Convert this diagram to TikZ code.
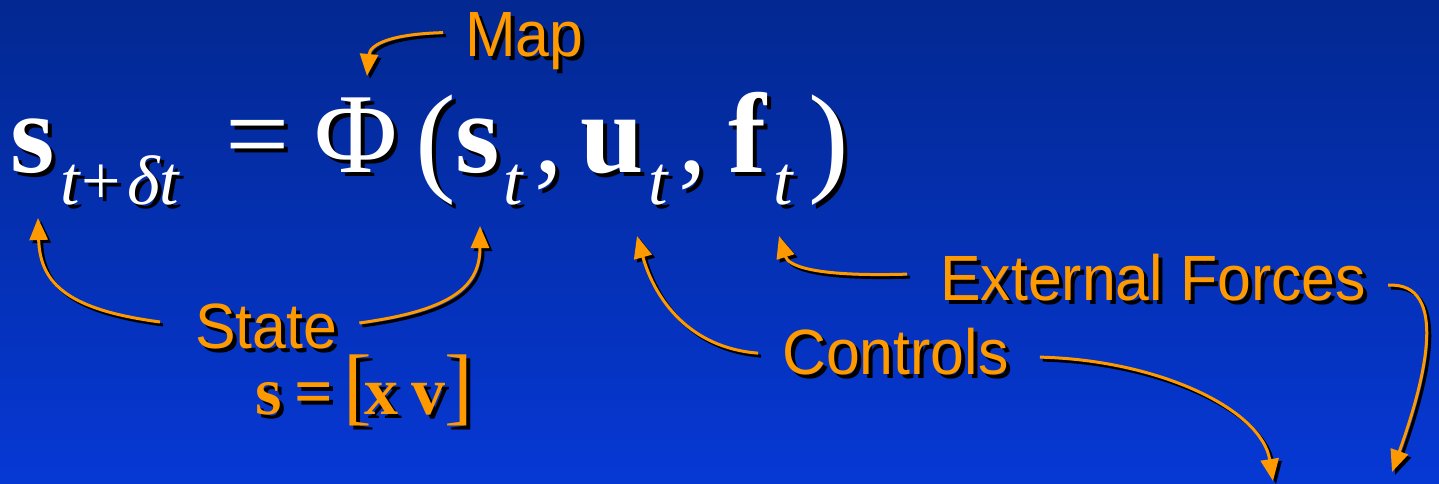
\documentclass[tikz,border=0pt]{standalone}
\usepackage{fontspec}
\setmainfont{Liberation Serif}
\newfontfamily\labfont[FakeStretch=0.95]{Liberation Sans}
\usetikzlibrary{arrows.meta}
\definecolor{bgtop}{RGB}{3,40,145}
\definecolor{bgbot}{RGB}{6,56,212}
\definecolor{orng}{RGB}{255,153,0}
\pgfdeclarelayer{bg}\pgfdeclarelayer{shadow}
\pgfsetlayers{bg,shadow,main}
\newcommand\sh[4]{%
  \begin{pgfonlayer}{shadow}\node[#3,text=black,xshift=4pt,yshift=-4pt] at #2 {#4};\end{pgfonlayer}%
  \node[#3] (#1) at #2 {#4};}
\newcommand\arr[1]{%
  \begin{pgfonlayer}{shadow}\draw[ashadow,transform canvas={shift={(3pt,-3pt)}}] #1;\end{pgfonlayer}%
  \draw[aline] #1;}
\tikzset{
  eqtxt/.style={text=white,inner sep=0pt,anchor=base west,font=\fontsize{114}{114}\selectfont},
  partxt/.style={text=white,inner sep=0pt,anchor=base west,font=\fontsize{122}{122}\selectfont},
  subtxt/.style={text=white,inner sep=0pt,anchor=base west,font=\fontsize{70}{70}\selectfont\itshape},
  labtxt/.style={text=orng,inner sep=0pt,anchor=base west,font=\labfont\fontsize{64}{64}\selectfont},
  seqtxt/.style={text=orng,inner sep=0pt,anchor=base west,font=\fontsize{68}{68}\selectfont\bfseries},
  aline/.style={draw=orng,line width=3pt,-{Triangle[length=22pt,width=18pt]}},
  ashadow/.style={draw=black,line width=3pt,-{Triangle[length=22pt,width=18pt]}}
}
\begin{document}
\begin{tikzpicture}[x=1pt,y=-1pt]
\begin{pgfonlayer}{bg}
\shade[top color=bgtop,bottom color=bgbot] (0,0) rectangle (1439,484);
\end{pgfonlayer}
\useasboundingbox (0,0) rectangle (1439,484);
% main equation
\sh{s1}{(10,172)}{eqtxt}{\bfseries s}
\sh{sub1}{(60,204)}{subtxt}{t\kern2pt{\upshape+}\kern6pt δt}
\sh{eq}{(225,172)}{eqtxt}{=}
\sh{Phi}{(314,172)}{eqtxt}{Φ}
\sh{lp}{(415,179)}{partxt}{(}
\sh{s2}{(455,172)}{eqtxt}{\bfseries s}
\sh{t2}{(503,204)}{subtxt}{t}
\sh{c1}{(534,172)}{eqtxt}{,}
\sh{u}{(580,172)}{eqtxt}{\bfseries u}
\sh{t3}{(648,204)}{subtxt}{t}
\sh{c2}{(678,172)}{eqtxt}{,}
\sh{f}{(728,172)}{eqtxt}{\bfseries f}
\sh{t4}{(773,204)}{subtxt}{t}
\sh{rp}{(808,179)}{partxt}{)}
% labels
\sh{map}{(465,57)}{labtxt}{Map}
\sh{state}{(195,348)}{labtxt}{State}
\sh{forces}{(940,300)}{labtxt}{External Forces}
\sh{controls}{(782,374)}{labtxt}{Controls}
\sh{seq}{(255,414)}{seqtxt}{s\kern13pt=\kern10pt{\fontsize{86}{86}\selectfont\mdseries[}\kern-8pt x\kern13pt v\kern-1pt{\fontsize{86}{86}\selectfont\mdseries]}}
% arrow tips
\coordinate (tMap) at (367,76);
\coordinate (tS1) at (38,218);
\coordinate (tS2) at (480,226);
\coordinate (tU) at (637,236);
\coordinate (tF) at (779,236);
\coordinate (tC) at (1273,481);
\coordinate (tE) at (1392,472);
% arrows
\arr{([xshift=-22pt,yshift=9pt]map.west) .. controls (392,34) and (370,44) .. (tMap)}
\arr{([xshift=-35pt,yshift=4pt]state.west) .. controls (70,310) and (40,285) .. (tS1)}
\arr{([xshift=22pt,yshift=3pt]state.east) .. controls (455,310) and (480,285) .. (tS2)}
\arr{([xshift=-24pt,yshift=-2pt]controls.west) .. controls (690,348) and (655,300) .. (tU)}
\arr{([xshift=31pt,yshift=-6pt]controls.east) .. controls (1160,360) and (1262,410) .. (tC)}
\arr{([xshift=-33pt,yshift=3pt]forces.west) .. controls (810,277) and (788,265) .. (tF)}
\arr{([xshift=22pt,yshift=-8pt]forces.east) .. controls (1450,282) and (1425,380) .. (tE)}
\end{tikzpicture}
\end{document}
